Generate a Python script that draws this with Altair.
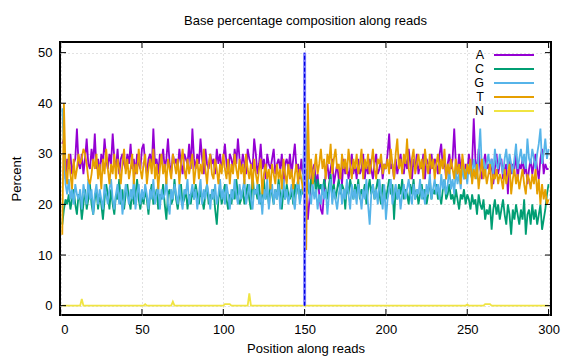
import altair as alt
import pandas as pd

positions = list(range(1, 301))

A = [32, 33, 25, 29, 27, 30, 26, 28, 29, 35,
     28, 27, 30, 26, 29, 33, 28, 27, 31, 28,
     34, 27, 29, 26, 30, 28, 33, 29, 27, 30,
     28, 34, 29, 27, 31, 26, 29, 30, 28, 27,
     30, 28, 32, 27, 29, 26, 30, 28, 27, 31,
     32, 28, 26, 29, 30, 27, 35, 28, 29, 26,
     30, 28, 31, 27, 29, 33, 28, 26, 30, 28,
     29, 27, 31, 28, 26, 30, 29, 28, 32, 27,
     35, 29, 27, 30, 28, 33, 29, 26, 31, 28,
     27, 30, 28, 29, 26, 31, 28, 30, 27, 29,
     32, 28, 26, 30, 29, 27, 31, 28, 33, 29,
     27, 30, 28, 26, 31, 29, 28, 27, 33, 30,
     26, 28, 32, 27, 29, 25, 30, 28, 27, 29,
     31, 26, 28, 29, 27, 30, 24, 28, 29, 27,
     30, 26, 29, 32, 27, 28, 25, 29, 26, 27,
     22, 17, 21, 25, 27, 28, 24, 26, 22, 19,
     18, 23, 26, 28, 25, 27, 29, 24, 26, 28,
     25, 27, 24, 29, 26, 28, 25, 27, 30, 26,
     28, 25, 29, 26, 27, 30, 25, 28, 26, 29,
     27, 25, 28, 30, 26, 27, 29, 25, 28, 27,
     30, 34, 27, 28, 25, 29, 26, 28, 30, 27,
     26, 29, 27, 31, 28, 25, 29, 27, 30, 26,
     28, 27, 30, 25, 29, 28, 26, 30, 27, 29,
     28, 26, 30, 32, 27, 29, 25, 28, 30, 27,
     29, 35, 28, 26, 30, 27, 29, 25, 28, 26,
     30, 27, 28, 37, 29, 26, 31, 27, 25, 28,
     30, 27, 28, 26, 29, 24, 27, 30, 26, 28,
     29, 25, 27, 28, 22, 29, 26, 28, 27, 30,
     25, 28, 27, 29, 26, 28, 24, 27, 29, 26,
     28, 30, 27, 25, 29, 31, 26, 28, 27, 27]

C = [16, 19, 21, 20, 22, 19, 21, 23, 20, 18,
     22, 21, 17, 20, 23, 19, 21, 24, 20, 18,
     21, 23, 19, 22, 20, 17, 21, 24, 22, 19,
     23, 20, 18, 22, 21, 25, 20, 23, 19, 22,
     24, 21, 19, 23, 20, 22, 25, 21, 19, 22,
     20, 23, 21, 18, 22, 24, 20, 21, 23, 19,
     22, 21, 24, 20, 17, 22, 23, 20, 21, 25,
     21, 19, 22, 24, 20, 21, 23, 19, 22, 20,
     23, 21, 24, 22, 20, 23, 21, 19, 22, 24,
     20, 22, 21, 23, 19, 16, 21, 23, 20, 22,
     24, 21, 19, 22, 20, 23, 21, 25, 22, 20,
     21, 23, 20, 22, 24, 21, 19, 26, 22, 23,
     21, 24, 20, 22, 25, 21, 23, 20, 24, 22,
     20, 23, 21, 25, 22, 19, 23, 21, 24, 22,
     21, 23, 20, 24, 22, 25, 21, 23, 22, 24,
     27, 23, 22, 25, 24, 26, 22, 25, 23, 24,
     22, 25, 23, 21, 24, 26, 22, 24, 21, 23,
     25, 22, 24, 23, 19, 24, 22, 25, 23, 21,
     24, 22, 25, 21, 23, 22, 24, 20, 23, 25,
     22, 24, 21, 23, 25, 22, 20, 24, 23, 21,
     23, 25, 22, 24, 17, 23, 21, 24, 22, 25,
     21, 23, 22, 20, 24, 22, 25, 21, 23, 20,
     22, 24, 21, 23, 20, 22, 25, 21, 23, 22,
     24, 21, 22, 20, 23, 25, 21, 22, 24, 21,
     22, 20, 23, 21, 19, 22, 21, 23, 20, 22,
     21, 19, 22, 20, 21, 18, 22, 20, 19, 21,
     17, 19, 18, 20, 15, 19, 21, 18, 20, 17,
     19, 21, 18, 16, 20, 18, 14, 19, 17, 20,
     18, 16, 19, 17, 21, 14, 18, 19, 16, 20,
     17, 19, 16, 18, 20, 15, 17, 19, 22, 24]

G = [39, 31, 24, 22, 25, 21, 23, 20, 24, 22,
     21, 23, 19, 24, 22, 20, 25, 21, 23, 18,
     22, 24, 20, 23, 21, 19, 24, 22, 20, 23,
     25, 21, 19, 22, 24, 20, 23, 18, 21, 24,
     22, 20, 23, 21, 25, 19, 22, 24, 20, 23,
     21, 24, 22, 19, 23, 21, 25, 20, 22, 24,
     19, 23, 21, 22, 25, 20, 18, 23, 21, 24,
     22, 20, 24, 21, 19, 23, 22, 25, 20, 22,
     24, 21, 23, 19, 22, 25, 20, 23, 21, 24,
     22, 19, 23, 21, 24, 20, 22, 25, 21, 23,
     20, 24, 22, 19, 23, 21, 25, 22, 20, 24,
     21, 23, 25, 20, 22, 24, 21, 19, 23, 22,
     24, 20, 22, 18, 23, 21, 25, 19, 22, 24,
     20, 23, 21, 24, 19, 22, 25, 21, 23, 20,
     22, 24, 21, 19, 23, 25, 20, 22, 24, 38,
     33, 26, 22, 20, 24, 21, 23, 19, 22, 20,
     24, 21, 23, 18, 22, 25, 20, 23, 21, 19,
     22, 24, 20, 23, 21, 25, 22, 19, 24, 21,
     23, 20, 24, 22, 19, 23, 21, 25, 20, 16,
     22, 24, 21, 23, 20, 25, 22, 19, 24, 17,
     21, 23, 25, 20, 22, 24, 21, 23, 19, 22,
     24, 21, 23, 25, 22, 20, 24, 21, 23, 22,
     25, 21, 23, 20, 24, 22, 26, 21, 23, 25,
     22, 24, 21, 26, 23, 25, 22, 24, 27, 23,
     25, 22, 27, 24, 26, 23, 28, 25, 27, 24,
     28, 26, 25, 29, 27, 25, 30, 35, 27, 29,
     26, 28, 30, 27, 29, 26, 31, 28, 27, 30,
     28, 26, 29, 31, 27, 30, 28, 26, 29, 32,
     27, 29, 31, 28, 30, 27, 33, 29, 28, 31,
     29, 27, 30, 32, 35, 28, 30, 33, 29, 31]

T = [14, 40, 27, 24, 30, 26, 23, 29, 25, 27,
     30, 28, 29, 31, 30, 28, 25, 24, 26, 29,
     27, 30, 25, 28, 23, 29, 26, 31, 27, 24,
     28, 26, 30, 25, 29, 27, 24, 28, 31, 26,
     29, 25, 27, 30, 24, 28, 26, 31, 27, 25,
     28, 30, 24, 27, 29, 26, 31, 25, 28, 23,
     27, 30, 26, 28, 24, 29, 27, 25, 30, 28,
     26, 29, 24, 28, 31, 27, 25, 29, 26, 28,
     30, 24, 27, 29, 25, 28, 26, 31, 27, 24,
     28, 30, 26, 25, 29, 27, 24, 28, 26, 30,
     27, 25, 29, 24, 28, 26, 30, 27, 25, 29,
     26, 28, 24, 30, 27, 25, 28, 23, 29, 26,
     24, 27, 29, 22, 26, 28, 25, 27, 23, 28,
     26, 24, 28, 25, 27, 23, 29, 26, 24, 28,
     25, 27, 23, 26, 28, 24, 27, 25, 23, 22,
     11, 40, 25, 29, 24, 27, 30, 26, 28, 31,
     27, 29, 25, 30, 28, 32, 26, 29, 31, 27,
     28, 25, 30, 27, 29, 26, 31, 28, 25, 29,
     27, 30, 26, 28, 31, 25, 29, 27, 30, 26,
     28, 31, 27, 25, 29, 28, 30, 26, 28, 27,
     29, 26, 31, 28, 25, 30, 33, 27, 29, 26,
     30, 28, 33, 27, 25, 29, 31, 26, 28, 30,
     27, 29, 25, 31, 28, 26, 30, 27, 29, 25,
     28, 30, 26, 29, 27, 31, 25, 28, 26, 29,
     27, 25, 29, 26, 28, 24, 30, 27, 25, 28,
     26, 29, 24, 27, 25, 28, 23, 26, 29, 25,
     27, 24, 26, 28, 23, 26, 25, 27, 24, 26,
     25, 23, 27, 24, 26, 28, 22, 25, 27, 24,
     26, 23, 25, 27, 24, 22, 26, 25, 23, 26,
     24, 27, 22, 25, 20, 24, 21, 23, 20, 21]

N = [0.0] * 300
N_spike_pos = [13, 52, 69, 101, 102, 103, 104, 116, 250, 261, 262, 263, 264]
N_spike_val = [1.3, 0.3, 0.8, 0.3, 0.3, 0.3, 0.3, 2.4, 0.2, 0.3, 0.3, 0.3, 0.3]
for p, v in zip(N_spike_pos, N_spike_val):
    N[p - 1] = v

bases = ["A", "C", "G", "T", "N"]
colors = ["#9400d3", "#009e73", "#56b4e9", "#e69f00", "#f0e442"]
series = {"A": A, "C": C, "G": G, "T": T, "N": N}

x_ticks = [0, 50, 100, 150, 200, 250, 300]
y_ticks = [0, 10, 20, 30, 40, 50]
marker_pos = 150
marker_range = [0, 50]

W, H = 491, 273
FONT = "Liberation Sans"

xscale = alt.Scale(domain=[-0.4, 301.5], nice=False, zero=False)
yscale = alt.Scale(domain=[-1.85, 52.1], nice=False, zero=False)
xaxis = alt.Axis(title="Position along reads", values=x_ticks, grid=True)
yaxis = alt.Axis(title="Percent", values=y_ticks, grid=True)

layers = []
for b, c in zip(bases, colors):
    df = pd.DataFrame({"pos": positions, "value": series[b]})
    layers.append(
        alt.Chart(df).mark_line(color=c, strokeWidth=1.8, clip=True).encode(
            x=alt.X("pos:Q", scale=xscale, axis=xaxis),
            y=alt.Y("value:Q", scale=yscale, axis=yaxis),
        )
    )

mdf = pd.DataFrame({"pos": [marker_pos], "value": [marker_range[0]], "value2": [marker_range[1]]})
layers.append(
    alt.Chart(mdf).mark_rule(color="#8080ff", strokeWidth=3).encode(
        x=alt.X("pos:Q", scale=xscale, axis=xaxis),
        y=alt.Y("value:Q", scale=yscale, axis=yaxis),
        y2="value2:Q",
    )
)
layers.append(
    alt.Chart(mdf).mark_rule(color="#0000e0", strokeWidth=1.2, strokeDash=[4, 2]).encode(
        x=alt.X("pos:Q", scale=xscale, axis=xaxis),
        y=alt.Y("value:Q", scale=yscale, axis=yaxis),
        y2="value2:Q",
    )
)

# inward ticks (gnuplot style, mirrored)
xt = pd.DataFrame({"pos": x_ticks})
yt = pd.DataFrame({"value": y_ticks})
for y0, y1 in [(H, H - 6), (0, 6)]:
    layers.append(
        alt.Chart(xt).mark_rule(color="black", strokeWidth=1).encode(
            x=alt.X("pos:Q", scale=xscale, axis=xaxis),
            y=alt.value(y0), y2=alt.value(y1),
        )
    )
for x0, x1 in [(0, 6), (W, W - 6)]:
    layers.append(
        alt.Chart(yt).mark_rule(color="black", strokeWidth=1).encode(
            y=alt.Y("value:Q", scale=yscale, axis=yaxis),
            x=alt.value(x0), x2=alt.value(x1),
        )
    )

# legend (label then line sample, like gnuplot)
for i, (b, c) in enumerate(zip(bases, colors)):
    ly = 13 + 14 * i
    layers.append(
        alt.Chart(pd.DataFrame({"label": [b]})).mark_text(
            align="right", baseline="middle", fontSize=12.5, font=FONT, color="black"
        ).encode(x=alt.value(424), y=alt.value(ly), text="label:N")
    )
    layers.append(
        alt.Chart(pd.DataFrame({"label": [b]})).mark_rule(color=c, strokeWidth=2).encode(
            x=alt.value(434), x2=alt.value(474), y=alt.value(ly)
        )
    )

chart = alt.layer(*layers).properties(
    width=W, height=H,
    title=alt.Title("Base percentage composition along reads", fontSize=13, font=FONT,
                    fontWeight="normal", color="black", offset=14, anchor="middle"),
    autosize=alt.AutoSizeParams(type="none"),
    padding={"left": 52, "top": 34, "right": 17, "bottom": 44},
).configure_view(
    stroke="black", strokeWidth=2
).configure_axis(
    domain=False, ticks=False, grid=True, gridColor="#c4c4c4", gridDash=[1, 3], gridWidth=1,
    labelFont=FONT, labelFontSize=13, labelColor="black", labelPadding=8,
    titleFont=FONT, titleFontSize=13, titleFontWeight="normal", titleColor="black",
).configure_axisY(titlePadding=14).configure_axisX(titlePadding=6)

chart.save("out.html", embed_options={"renderer": "svg", "actions": False})
